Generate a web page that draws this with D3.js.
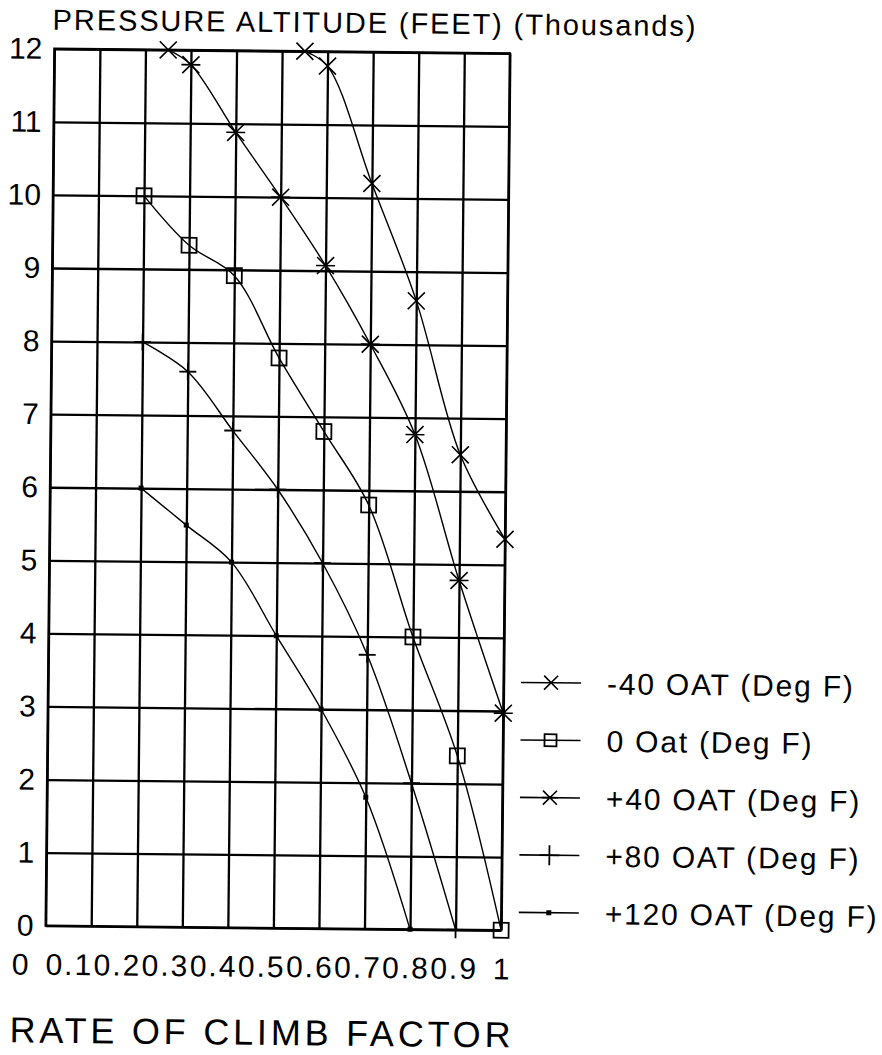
<!DOCTYPE html>
<html>
<head>
<meta charset="utf-8">
<script src="https://cdn.jsdelivr.net/npm/d3@7"></script>
<style>
  body { margin: 0; background: #fff; }
  svg { display: block; background: #fff; }
  text { font-family: "Liberation Sans", Arial, sans-serif; fill: #000; }
</style>
</head>
<body>
<svg width="882" height="1055"></svg>
<script>
// values
const xTicks = [0, 0.1, 0.2, 0.3, 0.4, 0.5, 0.6, 0.7, 0.8, 0.9, 1];
const xTickLabels = ['0', '0.1', '0.2', '0.3', '0.4', '0.5', '0.6', '0.7', '0.8', '0.9', '1'];
const yTicks = [0, 1, 2, 3, 4, 5, 6, 7, 8, 9, 10, 11, 12];

const seriesNames = ['-40 OAT (Deg F)', '0 Oat (Deg F)', '+40 OAT (Deg F)', '+80 OAT (Deg F)', '+120 OAT (Deg F)'];
const seriesMarkers = ['x', 'square', 'star', 'plus', 'dot'];

const minus40Climb = [0.55, 0.6, 0.7, 0.8, 0.9, 1.0];
const minus40Alt   = [12, 11.8, 10.2, 8.6, 6.5, 5.35];

const zeroClimb = [0.2, 0.3, 0.4, 0.5, 0.6, 0.7, 0.8, 0.9, 1.0];
const zeroAlt   = [10, 9.33, 8.92, 7.8, 6.8, 5.8, 4.0, 2.38, 0];

const plus40Climb = [0.25, 0.3, 0.4, 0.5, 0.6, 0.7, 0.8, 0.9, 1.0];
const plus40Alt   = [12, 11.8, 10.88, 10.0, 9.07, 8.0, 6.77, 4.78, 2.97];

const plus80Climb = [0.2, 0.3, 0.4, 0.5, 0.6, 0.7, 0.8, 0.9];
const plus80Alt   = [8.0, 7.6, 6.8, 6.0, 5.0, 3.75, 2.0, 0];

const plus120Climb = [0.2, 0.3, 0.4, 0.5, 0.6, 0.7, 0.8];
const plus120Alt   = [6.0, 5.5, 5.0, 4.0, 3.0, 1.8, 0];

const climbs = [minus40Climb, zeroClimb, plus40Climb, plus80Climb, plus120Climb];
const alts = [minus40Alt, zeroAlt, plus40Alt, plus80Alt, plus120Alt];

const svg = d3.select('svg');

const marg = { cima: 51, esquerda: 50 };
const innerLargura = 455.5;
const innerAltura = 877;

// the scan is turned a little clockwise
const root = svg.append('g')
    .attr('transform', `rotate(0.57, ${marg.esquerda + innerLargura / 2}, ${marg.cima + innerAltura / 2})`);

const xEscala = d3.scaleLinear().domain([0, 1]).range([0, innerLargura]);
const yEscala = d3.scaleLinear().domain([0, 12]).range([innerAltura, 0]);
// tick labels of the original sit on a slightly wider pitch than the grid
const xLabelEscala = d3.scaleLinear().domain([0, 1]).range([-24, 457]);

const g = root.append('g')
    .attr('transform', `translate(${marg.esquerda},${marg.cima})`);

// vertical grid
g.append('g')
    .attr('transform', `translate(0,${innerAltura})`)
    .call(d3.axisBottom(xEscala).tickValues(xTicks).tickSize(-innerAltura).tickFormat(''))
    .call(a => a.select('.domain').remove())
    .call(a => a.selectAll('line').attr('stroke', '#000').attr('stroke-width', 2.3));

// horizontal grid + labels
g.append('g')
    .call(d3.axisLeft(yEscala).tickValues(yTicks).tickSize(-innerLargura).tickPadding(12).tickFormat(d3.format('d')))
    .call(a => a.select('.domain').remove())
    .call(a => a.selectAll('line').attr('stroke', '#000').attr('stroke-width', 2.3))
    .call(a => a.selectAll('text')
        .attr('font-size', 30)
        .attr('font-family', '"Liberation Sans", Arial, sans-serif')
        .attr('fill', '#000'));

g.append('rect')
    .attr('width', innerLargura)
    .attr('height', innerAltura)
    .attr('fill', 'none')
    .attr('stroke', '#000')
    .attr('stroke-width', 2.3);

// x tick labels
g.append('g').selectAll('text').data(xTicks)
    .enter().append('text')
        .attr('x', d => xLabelEscala(d))
        .attr('y', innerAltura + 49)
        .attr('text-anchor', 'middle')
        .attr('font-size', 30)
        .style('letter-spacing', '2px')
        .text((d, i) => xTickLabels[i]);

// titles
root.append('text')
    .attr('x', 48)
    .attr('y', 32)
    .attr('font-size', 29)
    .style('letter-spacing', '1.9px')
    .text('PRESSURE ALTITUDE (FEET) (Thousands)');

root.append('text')
    .attr('x', 15)
    .attr('y', 1045)
    .attr('font-size', 36)
    .style('letter-spacing', '3.8px')
    .text('RATE OF CLIMB FACTOR');

const marker = (sel, tipo, cx, cy, s) => {
    const h = s / 2;
    if (tipo === 'x') {
        sel.append('path')
            .attr('d', `M${cx - h},${cy - h}L${cx + h},${cy + h}M${cx - h},${cy + h}L${cx + h},${cy - h}`)
            .attr('stroke', '#000').attr('stroke-width', 1.6).attr('fill', 'none');
    } else if (tipo === 'square') {
        sel.append('rect')
            .attr('x', cx - h).attr('y', cy - h).attr('width', s).attr('height', s)
            .attr('stroke', '#000').attr('stroke-width', 1.8).attr('fill', 'none');
    } else if (tipo === 'star') {
        sel.append('path')
            .attr('d', `M${cx - h},${cy - h}L${cx + h},${cy + h}M${cx - h},${cy + h}L${cx + h},${cy - h}M${cx - h - 1},${cy}L${cx + h + 1},${cy}`)
            .attr('stroke', '#000').attr('stroke-width', 1.6).attr('fill', 'none');
    } else if (tipo === 'plus') {
        sel.append('path')
            .attr('d', `M${cx - h},${cy}L${cx + h},${cy}M${cx},${cy - h}L${cx},${cy + h}`)
            .attr('stroke', '#000').attr('stroke-width', 1.8).attr('fill', 'none');
    } else {
        sel.append('rect')
            .attr('x', cx - 2.5).attr('y', cy - 2.5).attr('width', 5).attr('height', 5)
            .attr('fill', '#000');
    }
};

const linha = d3.line()
    .x(d => xEscala(d[0]))
    .y(d => yEscala(d[1]))
    .curve(d3.curveCatmullRom.alpha(0.5));

const markerSize = [17, 15, 17, 17, 5];

climbs.forEach((cs, i) => {
    const pts = cs.map((c, j) => [c, alts[i][j]]);
    g.append('path')
        .datum(pts)
        .attr('d', linha)
        .attr('fill', 'none')
        .attr('stroke', '#000')
        .attr('stroke-width', 1.4);
    const mg = g.append('g');
    pts.forEach(p => marker(mg, seriesMarkers[i], xEscala(p[0]), yEscala(p[1]), markerSize[i]));
});

// legend
const legendY = d3.scaleLinear().domain([0, 4]).range([680, 910]);
const leg = root.append('g');
seriesNames.forEach((nome, i) => {
    const y0 = legendY(i);
    leg.append('line')
        .attr('x1', 523).attr('x2', 583)
        .attr('y1', y0).attr('y2', y0)
        .attr('stroke', '#000').attr('stroke-width', 1.6);
    marker(leg, seriesMarkers[i], 553, y0, [14, 12, 14, 20, 5][i]);
    leg.append('text')
        .attr('x', 609)
        .attr('y', y0 + 11)
        .attr('font-size', 30)
        .style('letter-spacing', '1.8px')
        .text(nome);
});
</script>
</body>
</html>
